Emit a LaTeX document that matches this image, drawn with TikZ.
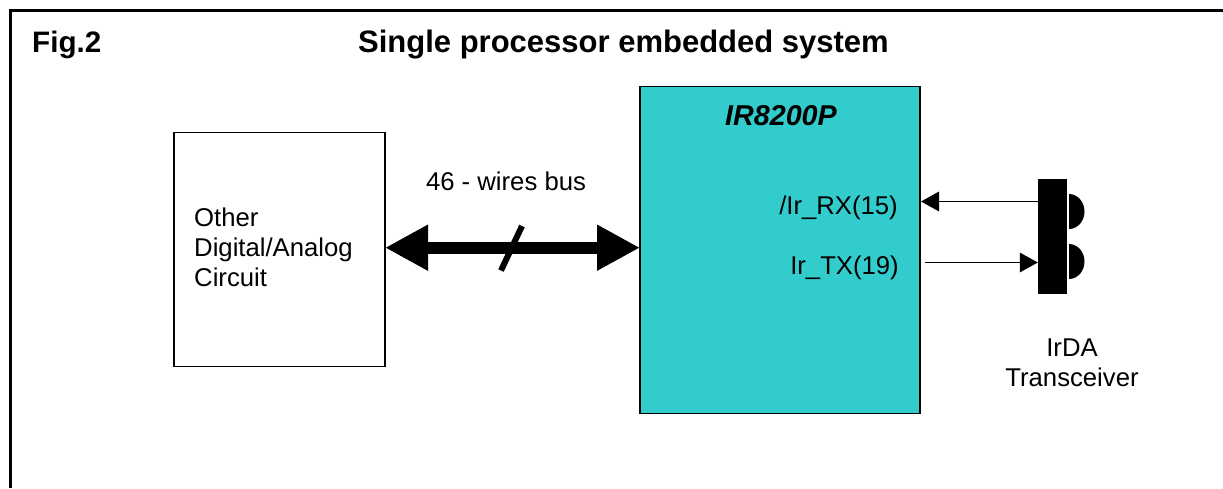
\documentclass[tikz,border=0pt]{standalone}
\usepackage{fontspec}
\setmainfont{Liberation Sans}
\usetikzlibrary{arrows.meta}
\definecolor{chipc}{RGB}{51,204,204}
\tikzset{
 x=1pt,y=-1pt,
 lbl/.style={inner sep=0pt,font=\fontsize{25.7}{30}\selectfont},
 box/.style={draw=black,line width=1.6pt,inner sep=0pt},
 thin arrow/.style={line width=1.7pt,-{Triangle[length=18pt,width=19.5pt]}},
 bus/.style={line width=12pt,{Triangle[length=43pt,width=43pt]}-{Triangle[length=43pt,width=43pt]}},
}
\begin{document}
\begin{tikzpicture}
\useasboundingbox (0,0) rectangle (1223,488);
\draw[line width=3.5pt] (10.5,488) -- (10.5,10.5) -- (1223,10.5);
\node[lbl,anchor=west,font=\fontsize{29.6}{34}\selectfont\bfseries] (fig) at (32,45) {Fig.2};
\node[lbl,font=\fontsize{31}{36}\selectfont\bfseries] (title) at (623.5,45) {Single processor embedded system};
\node[box,minimum width=211pt,minimum height=234pt] (other) at (279.5,249.5) {};
\node[lbl,anchor=west,align=left] (othert) at (194,247) {Other\\Digital/Analog\\Circuit};
\node[box,fill=chipc,minimum width=280pt,minimum height=327pt] (chip) at (780,250) {};
\node[lbl,font=\fontsize{28.7}{34}\selectfont\bfseries\itshape] (chipt) at (781,116) {IR8200P};
\node[lbl] (bust) at (506,181) {46 - wires bus};
\coordinate (busl) at (385,247.7);
\coordinate (busr) at (640,247.7);
\draw[bus] (busl) -- (busr);
\coordinate (sa) at (501,270.5);
\coordinate (sb) at (522,226);
\draw[line width=6pt] (sa) -- (sb);
\node[lbl,anchor=east] (rx) at (898,208) {/Ir\_RX(15)};
\node[lbl,anchor=east] (tx) at (899,268) {Ir\_TX(19)};
\fill (1069,229) arc (-90:90:15.5pt and 17.5pt) -- cycle;
\fill (1069,279) arc (-90:90:15.5pt and 17.5pt) -- cycle;
\node[fill=black,minimum width=29pt,minimum height=115pt,inner sep=0pt] (tr) at (1052.5,236.5) {};
\coordinate (rxe) at (921,201.5);
\coordinate (txs) at (925,262.5);
\draw[thin arrow] (tr.west |- rxe) -- (rxe);
\draw[thin arrow] (txs) -- (tr.west |- txs);
\node[lbl,align=center] (irda) at (1072,363) {IrDA\\Transceiver};
\end{tikzpicture}
\end{document}
